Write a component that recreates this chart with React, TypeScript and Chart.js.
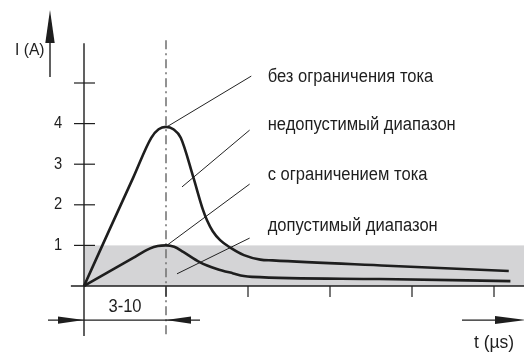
import React, { useEffect, useRef } from 'react';
import { Chart, registerables } from 'chart.js';

Chart.register(...registerables);

// ---- data (x in time-grid units, y in amperes) ----
const xTickValues = [1, 2, 3, 4, 5];
const yTickValues = [1, 2, 3, 4, 5];
const yTickLabels = ['1', '2', '3', '4', ''];

const unlimitedX = [0, 0.3, 0.6, 0.82, 0.91, 1.0, 1.09, 1.18, 1.33, 1.45, 1.5, 1.57, 1.66, 1.78, 1.95, 2.15, 2.3, 3.7, 5.18];
const unlimitedY = [0, 1.34, 2.67, 3.65, 3.86, 3.92, 3.86, 3.65, 2.7, 1.88, 1.62, 1.35, 1.13, 0.95, 0.76, 0.65, 0.63, 0.5, 0.37];

const limitedX = [0, 0.3, 0.6, 0.8, 0.9, 1.0, 1.1, 1.21, 1.41, 1.62, 1.82, 1.95, 2.05, 3.6, 5.2];
const limitedY = [0, 0.345, 0.69, 0.92, 0.985, 1.0, 0.965, 0.84, 0.59, 0.42, 0.31, 0.245, 0.225, 0.172, 0.12];

const allowedBandX = [0, 5.37];
const allowedBandY = [0, 1];
const peakTime = 1;

const annotationLabels = [
  'без ограничения тока',
  'недопустимый диапазон',
  'с ограничением тока',
  'допустимый диапазон',
];
const leaderStartX = [1.01, 1.195, 1.0, 1.134];
const leaderStartY = [3.92, 2.44, 0.985, 0.3];
const leaderEndX = [2.04, 2.02, 2.02, 2.02];
const leaderEndY = [5.17, 3.84, 2.51, 1.18];
const labelX = 2.24;
const labelY = [5.02, 3.84, 2.61, 1.35];

const yAxisTitle = 'I (A)';
const xAxisTitle = 't (µs)';
const riseLabel = '3-10';

const FONT = '"Liberation Sans", Arial, sans-serif';
const INK = '#1e1e1e';
const SQUEEZE = 0.92;

export default function App() {
  const ref = useRef<HTMLCanvasElement>(null);

  useEffect(() => {
    const canvas = ref.current!;

    const arrow = (ctx: CanvasRenderingContext2D, tipX: number, tipY: number, baseX: number, baseY: number, half: number) => {
      const dx = baseX - tipX, dy = baseY - tipY;
      const len = Math.hypot(dx, dy);
      const nx = -dy / len, ny = dx / len;
      ctx.beginPath();
      ctx.moveTo(tipX, tipY);
      ctx.lineTo(baseX + nx * half, baseY + ny * half);
      ctx.lineTo(baseX - nx * half, baseY - ny * half);
      ctx.closePath();
      ctx.fill();
    };

    const text = (ctx: CanvasRenderingContext2D, t: string, x: number, y: number) => {
      ctx.save();
      ctx.translate(x, y);
      ctx.scale(SQUEEZE, 1);
      ctx.fillText(t, 0, 0);
      ctx.restore();
    };

    const deco = {
      id: 'deco',
      beforeDatasetsDraw(chart: any) {
        const ctx: CanvasRenderingContext2D = chart.ctx;
        const xs = chart.scales.x, ys = chart.scales.y;
        const X = (v: number) => xs.getPixelForValue(v);
        const Y = (v: number) => ys.getPixelForValue(v);
        ctx.save();
        // allowed band
        ctx.fillStyle = '#d4d4d6';
        ctx.fillRect(X(allowedBandX[0]), Y(allowedBandY[1]), X(allowedBandX[1]) - X(allowedBandX[0]), Y(allowedBandY[0]) - Y(allowedBandY[1]));

        // dash-dot peak line
        ctx.strokeStyle = '#6f6f6f';
        ctx.lineWidth = 1.5;
        ctx.setLineDash([9, 4, 2, 4]);
        ctx.beginPath();
        ctx.moveTo(X(peakTime), Y(6.05));
        ctx.lineTo(X(peakTime), Y(-1.23));
        ctx.stroke();
        ctx.setLineDash([]);

        // y axis
        ctx.strokeStyle = INK;
        ctx.lineWidth = 1.4;
        ctx.beginPath();
        ctx.moveTo(X(0), Y(5.98));
        ctx.lineTo(X(0), Y(-1.23));
        ctx.stroke();
        // y ticks
        ctx.lineWidth = 1.2;
        yTickValues.forEach((v) => {
          ctx.beginPath();
          ctx.moveTo(X(0) - 10, Y(v));
          ctx.lineTo(X(0) + 11, Y(v));
          ctx.stroke();
        });
        // x axis
        ctx.lineWidth = 1.4;
        ctx.beginPath();
        ctx.moveTo(X(-0.16), Y(0));
        ctx.lineTo(X(5.37), Y(0));
        ctx.stroke();
        // x ticks
        ctx.lineWidth = 1.2;
        xTickValues.forEach((v) => {
          ctx.beginPath();
          ctx.moveTo(X(v), Y(0));
          ctx.lineTo(X(v), Y(0) + 11);
          ctx.stroke();
        });

        // leader lines
        ctx.lineWidth = 1;
        ctx.strokeStyle = '#222';
        annotationLabels.forEach((_, i) => {
          ctx.beginPath();
          ctx.moveTo(X(leaderStartX[i]), Y(leaderStartY[i]));
          ctx.lineTo(X(leaderEndX[i]), Y(leaderEndY[i]));
          ctx.stroke();
        });
        ctx.restore();
      },
      afterDatasetsDraw(chart: any) {
        const ctx: CanvasRenderingContext2D = chart.ctx;
        const xs = chart.scales.x, ys = chart.scales.y;
        const X = (v: number) => xs.getPixelForValue(v);
        const Y = (v: number) => ys.getPixelForValue(v);
        ctx.save();
        ctx.fillStyle = INK;
        ctx.strokeStyle = INK;

        // y tick labels
        ctx.font = `16px ${FONT}`;
        ctx.textAlign = 'center';
        ctx.textBaseline = 'middle';
        yTickValues.forEach((v, i) => {
          if (yTickLabels[i]) text(ctx, yTickLabels[i], X(0) - 26, Y(v));
        });

        // annotation labels
        ctx.font = `18px ${FONT}`;
        ctx.textAlign = 'left';
        ctx.textBaseline = 'alphabetic';
        annotationLabels.forEach((t, i) => text(ctx, t, X(labelX), Y(labelY[i])));

        // y axis title and arrow
        ctx.font = `17px ${FONT}`;
        text(ctx, yAxisTitle, 15, 55);
        ctx.lineWidth = 1.4;
        ctx.beginPath();
        ctx.moveTo(50, 77);
        ctx.lineTo(50, 40);
        ctx.stroke();
        arrow(ctx, 50, 10, 50, 43, 4.7);

        // x axis title and arrow
        const dimY = Y(-0.84);
        ctx.font = `19px ${FONT}`;
        text(ctx, xAxisTitle, 474, 348);
        ctx.beginPath();
        ctx.moveTo(462, dimY);
        ctx.lineTo(500, dimY);
        ctx.stroke();
        arrow(ctx, 526, dimY, 495, dimY, 4);

        // rise time dimension
        ctx.lineWidth = 1.1;
        ctx.beginPath();
        ctx.moveTo(X(0) - 36, dimY);
        ctx.lineTo(X(peakTime) + 34, dimY);
        ctx.stroke();
        arrow(ctx, X(0), dimY, X(0) - 26, dimY, 3.6);
        arrow(ctx, X(peakTime), dimY, X(peakTime) + 25, dimY, 3.6);
        ctx.font = `18px ${FONT}`;
        ctx.textAlign = 'center';
        text(ctx, riseLabel, (X(0) + X(peakTime)) / 2, 312);
        ctx.restore();
      },
    };

    const chart = new Chart(canvas, {
      type: 'line',
      data: {
        datasets: [
          {
            data: unlimitedX.map((x, i) => ({ x, y: unlimitedY[i] })),
            borderColor: INK,
            borderWidth: 2.6,
            pointRadius: 0,
            cubicInterpolationMode: 'monotone',
            clip: false as any,
            fill: false,
          },
          {
            data: limitedX.map((x, i) => ({ x, y: limitedY[i] })),
            borderColor: INK,
            borderWidth: 2.6,
            pointRadius: 0,
            cubicInterpolationMode: 'monotone',
            clip: false as any,
            fill: false,
          },
        ],
      },
      options: {
        responsive: false,
        animation: false,
        devicePixelRatio: 1,
        events: [],
        layout: { padding: { left: 84, right: 30, top: 83, bottom: 70 } },
        scales: {
          x: { type: 'linear', min: 0, max: 5, display: false },
          y: { type: 'linear', min: 0, max: 5, display: false },
        },
        plugins: { legend: { display: false }, tooltip: { enabled: false } },
      },
      plugins: [deco],
    });
    return () => chart.destroy();
  }, []);

  return (
    <div style={{ position: 'fixed', left: 0, top: 0, width: 524, height: 356, background: '#fff' }}>
      <canvas ref={ref} width={524} height={356} style={{ display: 'block' }} />
    </div>
  );
}
